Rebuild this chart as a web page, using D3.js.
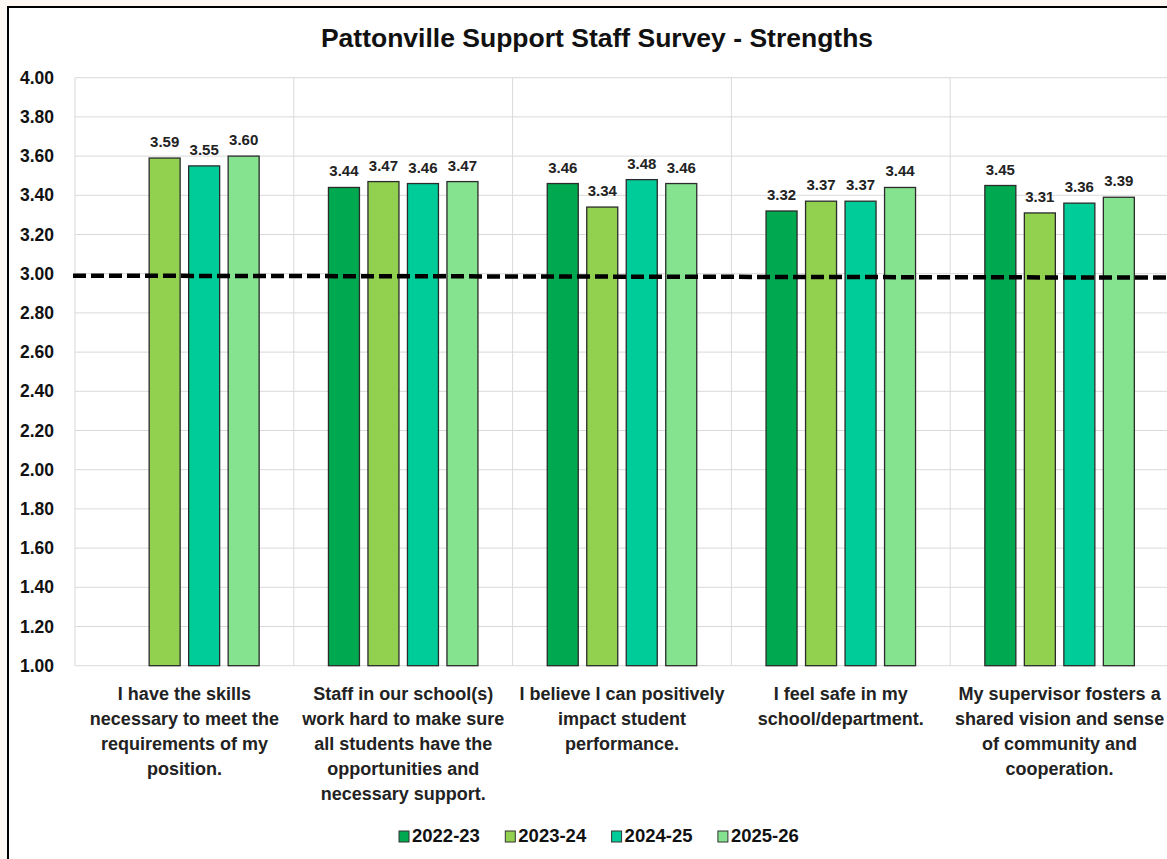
<!DOCTYPE html>
<html>
<head>
<meta charset="utf-8">
<script src="https://cdn.jsdelivr.net/npm/d3@7"></script>
<style>
  html, body { margin: 0; padding: 0; background: #fdf8f3; }
  svg { display: block; }
</style>
</head>
<body>
<svg id="chart" width="1167" height="859"></svg>
<script>
const title = "Pattonville Support Staff Survey - Strengths";
const categories = [
  ["I have the skills", "necessary to meet the", "requirements of my", "position."],
  ["Staff in our school(s)", "work hard to make sure", "all students have the", "opportunities and", "necessary support."],
  ["I believe I can positively", "impact student", "performance."],
  ["I feel safe in my", "school/department."],
  ["My supervisor fosters a", "shared vision and sense", "of community and", "cooperation."]
];
const seriesNames = ["2022-23", "2023-24", "2024-25", "2025-26"];
const s2022 = [null, 3.44, 3.46, 3.32, 3.45];
const s2023 = [3.59, 3.47, 3.34, 3.37, 3.31];
const s2024 = [3.55, 3.46, 3.48, 3.37, 3.36];
const s2025 = [3.60, 3.47, 3.46, 3.44, 3.39];
const seriesValues = [s2022, s2023, s2024, s2025];
const colors = ["#00a94f", "#92d050", "#00cc99", "#85e28f"];
const yTicks = [1.0, 1.2, 1.4, 1.6, 1.8, 2.0, 2.2, 2.4, 2.6, 2.8, 3.0, 3.2, 3.4, 3.6, 3.8, 4.0];
const thresholdLine = [2.99, 2.98];

const FONT = "Liberation Sans, Arial, sans-serif";
const svg = d3.select("#chart");
svg.append("rect").attr("x", 8).attr("y", 7).attr("width", 1200).attr("height", 900)
  .attr("fill", "#ffffff").attr("stroke", "#000").attr("stroke-width", 2);

const pLeft = 75, pRight = 1169, pTop = 77.7, pBottom = 665.7;
const y = d3.scaleLinear().domain([1, 4]).range([pBottom, pTop]);
const x0 = d3.scaleBand().domain(d3.range(categories.length)).range([pLeft, pRight]).padding(0);
const step = 39.5, barW = 31;
const x1 = d3.scaleBand().domain(d3.range(seriesNames.length))
  .range([-2 * step, 2 * step]).paddingInner((step - barW) / step).paddingOuter((step - barW) / step / 2);

const g = svg.append("g");
g.selectAll("line.h").data(yTicks).enter().append("line")
  .attr("x1", pLeft).attr("x2", pRight)
  .attr("y1", d => y(d)).attr("y2", d => y(d))
  .attr("stroke", "#d9d9d9").attr("stroke-width", 1);
g.selectAll("line.v").data(d3.range(categories.length + 1)).enter().append("line")
  .attr("x1", d => pLeft + d * x0.step()).attr("x2", d => pLeft + d * x0.step())
  .attr("y1", pTop).attr("y2", pBottom)
  .attr("stroke", "#d9d9d9").attr("stroke-width", 1);

const yAxis = d3.axisLeft(y).tickValues(yTicks).tickFormat(d3.format(".2f")).tickSize(0).tickPadding(0);
const ya = svg.append("g").attr("transform", "translate(54,0)").call(yAxis);
ya.select(".domain").remove();
ya.selectAll("text").attr("font-family", FONT)
  .attr("font-weight", "bold").attr("font-size", 17.5).attr("fill", "#111");

const groups = svg.append("g").selectAll("g").data(categories).enter().append("g")
  .attr("transform", (d, i) => `translate(${x0(i) + x0.bandwidth() / 2},0)`);
groups.each(function(_, ci) {
  const gg = d3.select(this);
  seriesValues.forEach((vals, si) => {
    const v = vals[ci];
    if (v == null) return;
    gg.append("rect")
      .attr("x", x1(si)).attr("width", x1.bandwidth())
      .attr("y", y(v)).attr("height", y(1) - y(v))
      .attr("fill", colors[si]).attr("stroke", "#2b2b2b").attr("stroke-width", 1.3);
    gg.append("text")
      .attr("x", x1(si) + x1.bandwidth() / 2).attr("y", y(v) - 11)
      .attr("text-anchor", "middle")
      .attr("font-family", FONT)
      .attr("font-weight", "bold").attr("font-size", 15).attr("fill", "#222")
      .text(d3.format(".2f")(v));
  });
});

svg.append("line")
  .attr("x1", 73).attr("x2", 1167)
  .attr("y1", y(thresholdLine[0])).attr("y2", y(thresholdLine[1]))
  .attr("stroke", "#000").attr("stroke-width", 4.5).attr("stroke-dasharray", "13,5");

groups.each(function(lines) {
  const t = d3.select(this).append("text")
    .attr("text-anchor", "middle")
    .attr("font-family", FONT)
    .attr("font-weight", "bold").attr("font-size", 18).attr("fill", "#222");
  lines.forEach((ln, i) => {
    t.append("tspan").attr("x", 0).attr("y", 700 + i * 25).text(ln);
  });
});

svg.append("text").attr("x", 597).attr("y", 47).attr("text-anchor", "middle")
  .attr("font-family", FONT)
  .attr("font-weight", "bold").attr("font-size", 26.5).attr("fill", "#111")
  .text(title);

const legend = svg.append("g").selectAll("g").data(seriesNames).enter().append("g")
  .attr("transform", (d, i) => `translate(${399 + i * 106.3},831)`);
legend.append("rect").attr("width", 10).attr("height", 11)
  .attr("fill", (d, i) => colors[i]).attr("stroke", "#333").attr("stroke-width", 1);
legend.append("text").attr("x", 13).attr("y", 11)
  .attr("font-family", FONT)
  .attr("font-weight", "bold").attr("font-size", 18.5).attr("fill", "#111")
  .text(d => d);
</script>
</body>
</html>
